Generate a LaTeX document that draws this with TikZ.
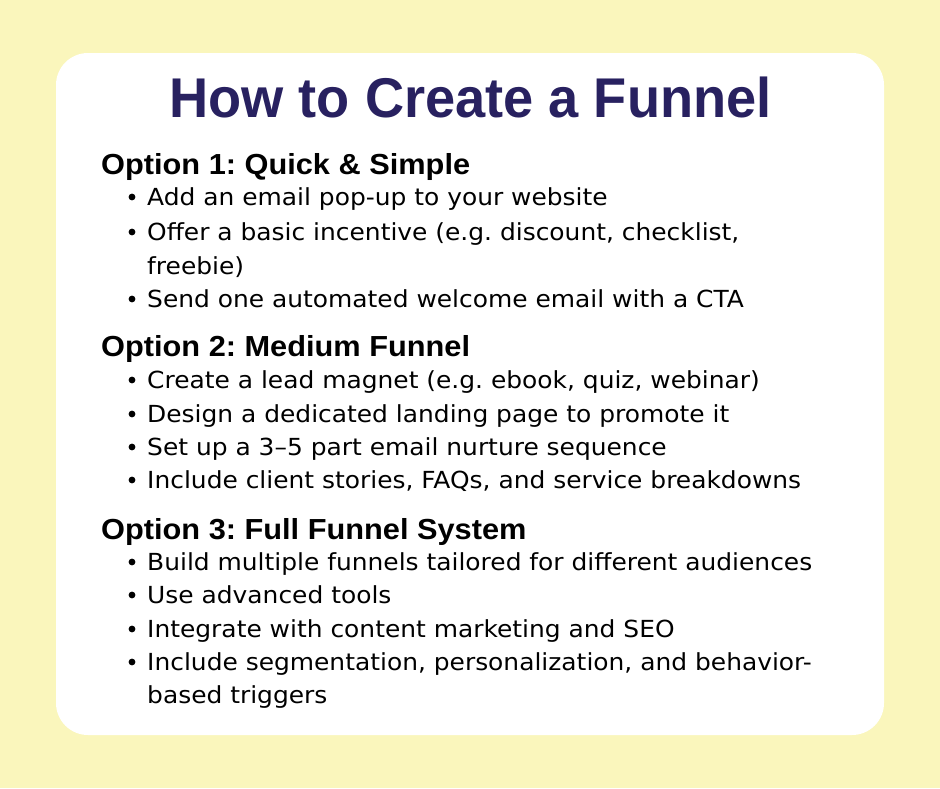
\documentclass[tikz,border=0pt]{standalone}
\usepackage{fontspec}
\setmainfont{Liberation Sans}
\newfontfamily\bodyfont[FakeStretch=1.06]{DejaVu Sans}
\newfontfamily\headfont[FakeStretch=1.06]{Liberation Sans}
\newfontfamily\titlefont[FakeStretch=0.968]{Liberation Sans}
\frenchspacing
\definecolor{bgyellow}{RGB}{250,246,188}
\definecolor{titlenavy}{RGB}{40,33,96}
\tikzset{
  txt/.style={anchor=base west, inner sep=0pt, font=\bodyfont\fontsize{23.5}{27}\selectfont},
  head/.style={anchor=base west, inner sep=0pt, font=\headfont\fontsize{29}{34}\bfseries\selectfont},
  bul/.style={fill=black},
}
\begin{document}
\begin{tikzpicture}[x=1pt,y=-1pt]
\useasboundingbox (0,0) rectangle (940,788);
\fill[bgyellow] (0,0) rectangle (940,788);
\fill[white, rounded corners=32pt] (56,53) rectangle (884,735);
\node[anchor=base, inner sep=0pt, text=titlenavy, font=\titlefont\fontsize{56}{60}\bfseries\selectfont] (title) at (470.5,117) {How to Create a Funnel};

\node[head] (h1) at (101,174) {Option 1: Quick \& Simple};
\node[txt] (a1) at (147,205) {Add an email pop-up to your website};
\node[txt] (a2) at (147,240) {Offer a basic incentive (e.g. discount, checklist,};
\node[txt] (a2b) at (147,274) {freebie)};
\node[txt] (a3) at (147,307) {Send one automated welcome email with a CTA};

\node[head] (h2) at (101,356) {Option 2: Medium Funnel};
\node[txt] (b1) at (147,388) {Create a lead magnet (e.g. ebook, quiz, webinar)};
\node[txt] (b2) at (147,422) {Design a dedicated landing page to promote it};
\node[txt] (b3) at (147,455) {Set up a 3–5 part email nurture sequence};
\node[txt] (b4) at (147,488) {Include client stories, FAQs, and service breakdowns};

\node[head] (h3) at (101,539) {Option 3: Full Funnel System};
\node[txt] (c1) at (147,570) {Build multiple funnels tailored for different audiences};
\node[txt] (c2) at (147,603) {Use advanced tools};
\node[txt] (c3) at (147,637) {Integrate with content marketing and SEO};
\node[txt] (c4) at (147,670) {Include segmentation, personalization, and behavior-};
\node[txt] (c4b) at (147,703) {based triggers};

\foreach \y in {205,240,307,388,422,455,488,570,603,637,670}
  \fill[bul] (132,\y-8) circle (3.4);
\end{tikzpicture}
\end{document}
